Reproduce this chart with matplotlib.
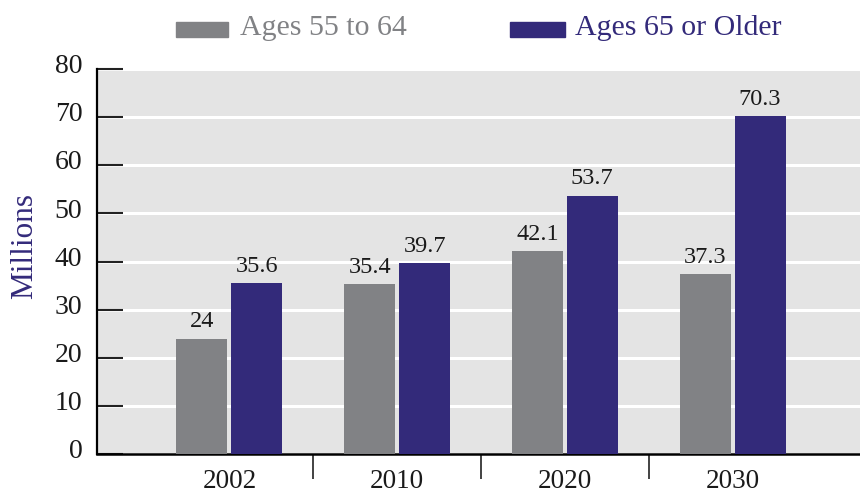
import matplotlib
matplotlib.use("Agg")
import matplotlib.pyplot as plt
from matplotlib.patches import Rectangle
from matplotlib.transforms import ScaledTranslation
import numpy as np

years = ["2002", "2010", "2020", "2030"]
ages_55_64 = [24, 35.4, 42.1, 37.3]
ages_65_plus = [35.6, 39.7, 53.7, 70.3]
series_names = ["Ages 55 to 64", "Ages 65 or Older"]
y_ticks = [0, 10, 20, 30, 40, 50, 60, 70, 80]

GRAY = "#818285"
PURPLE = "#332a7a"
BG = "#e4e4e4"
INK = "#1a1a1a"

plt.rcParams["font.family"] = ["Liberation Serif", "DejaVu Serif"]

fig = plt.figure(figsize=(8.6, 4.93), dpi=100)
ax = fig.add_axes([97 / 860, 1 - 454 / 493, 763 / 860, 385 / 493])
ax.set_facecolor(BG)

x = np.arange(len(years))
w = 0.304
off = 0.164
b1 = ax.bar(x - off, ages_55_64, width=w, color=GRAY, zorder=3)
b2 = ax.bar(x + off, ages_65_plus, width=w, color=PURPLE, zorder=3)

for rect, v in zip(list(b1) + list(b2), ages_55_64 + ages_65_plus):
    ax.text(rect.get_x() + rect.get_width() / 2, v + 2.3, f"{v:g}",
            ha="center", va="baseline", fontsize=17.5, color=INK, zorder=4)

ax.set_xlim(-0.79, 3.76)
ax.set_ylim(0, 80)
ax.set_yticks(y_ticks)
ax.yaxis.grid(True, color="white", linewidth=2.2, zorder=1)
ax.set_axisbelow(True)

ax.tick_params(axis="y", direction="in", length=19, width=1.5, color="#222222",
               labelsize=20, labelcolor=INK, pad=10.5)
shift = ScaledTranslation(0, -3 / 72, fig.dpi_scale_trans)
for lbl in ax.get_yticklabels():
    lbl.set_verticalalignment("baseline")
    lbl.set_transform(lbl.get_transform() + shift)

# category labels at group centers, tick marks between groups
ax.set_xticks(x)
ax.set_xticklabels(years, fontsize=19.5, color=INK)
ax.tick_params(axis="x", which="major", length=0, pad=11)
ax.set_xticks(x[:-1] + 0.5, minor=True)
ax.tick_params(axis="x", which="minor", direction="out", length=18, width=1.2, color="#222222")

for s in ["top", "right"]:
    ax.spines[s].set_visible(False)
ax.spines["left"].set_linewidth(1.6)
ax.spines["bottom"].set_linewidth(1.8)

ax.set_ylabel("Millions", fontsize=22.5, color=PURPLE)
ax.yaxis.set_label_coords(-0.076, 0.54)

# legend row above the plot
fig.patches.append(Rectangle((176 / 860, 1 - 37 / 493), 52 / 860, 15 / 493,
                             transform=fig.transFigure, color=GRAY))
fig.text(240 / 860, 1 - 28 / 493, series_names[0], fontsize=21.5, color=GRAY, va="center")
fig.patches.append(Rectangle((510 / 860, 1 - 37 / 493), 55 / 860, 15 / 493,
                             transform=fig.transFigure, color=PURPLE))
fig.text(575 / 860, 1 - 28 / 493, series_names[1], fontsize=21.5, color=PURPLE, va="center")

fig.savefig("out.png", dpi=100)
